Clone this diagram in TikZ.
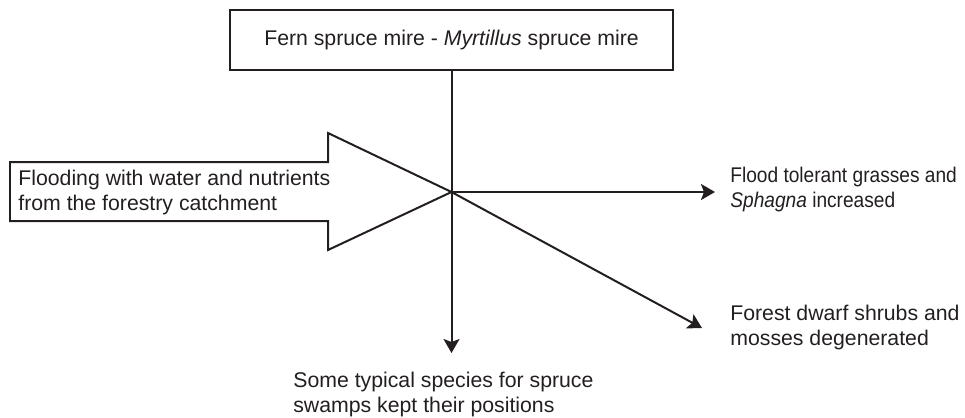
\documentclass[tikz,border=0pt]{standalone}
\usepackage{fontspec}
\setmainfont{Liberation Sans}
\newfontfamily\estreita[FakeStretch=0.9]{Liberation Sans}
\usepackage{tikz}
\usetikzlibrary{arrows.meta, positioning, calc}
\usepackage{xcolor}
\definecolor{tinta}{RGB}{35, 31, 32}
\tikzset{
  rotulo/.style={
    inner sep=0pt, align=left, anchor=west, text=tinta,
    font=\fontsize{12.1}{14.2}\selectfont
  },
  seta/.style={-{Stealth[length=0.28cm, width=0.32cm, inset=0.06cm]}, draw=tinta, line width=0.04cm},
}

\begin{document}
\begin{tikzpicture}[
    x=0.02cm, y=-0.02cm,
    caixa/.style={
        draw=tinta,
        line width=0.04cm,
        minimum width=8.86cm,
        minimum height=1.2cm,
        inner sep=0pt,
        text=tinta,
        font=\fontsize{12.1}{14.2}\selectfont
    },
    setagrande/.style={
        draw=tinta,
        line width=0.04cm,
        line join=miter
    }
]
\useasboundingbox (0,0) rectangle (965,417);

% =================================================
% TOPO - TIPO DE MIRE
% =================================================

\node[caixa] (mire) at (451.5,40)
{Fern spruce mire - \textit{Myrtillus} spruce mire};

\coordinate (centro) at (451.5,192);

% =================================================
% SETA GRANDE - INUNDACAO
% =================================================

\draw[setagrande]
    (10,162) -- (328,162) -- (328,133) -- (centro)
    -- (328,250) -- (328,221) -- (10,221) -- cycle;

\node[rotulo] (inund) at (18,192.5)
{Flooding with water and nutrients\\from the forestry catchment};

% =================================================
% EFEITOS
% =================================================

\coordinate (pontaB) at (451.5,353);
\coordinate (pontaD) at (715,192);
\coordinate (pontaE) at (702,328);

\node[rotulo, font=\fontsize{12.1}{14.2}\selectfont\estreita] (gramas) at (730,189.5)
{Flood tolerant grasses and\\\textit{Sphagna} increased};

\node[rotulo] (arbustos) at (730,327.5)
{Forest dwarf shrubs and\\mosses degenerated};

\node[rotulo] (especies) at (293,394.5)
{Some typical species for spruce\\swamps kept their positions};

% Conexoes
\draw[seta] (mire.south) -- (pontaB);
\draw[seta] (centro) -- (pontaD);
\draw[seta] (centro) -- (pontaE);

\end{tikzpicture}
\end{document}
